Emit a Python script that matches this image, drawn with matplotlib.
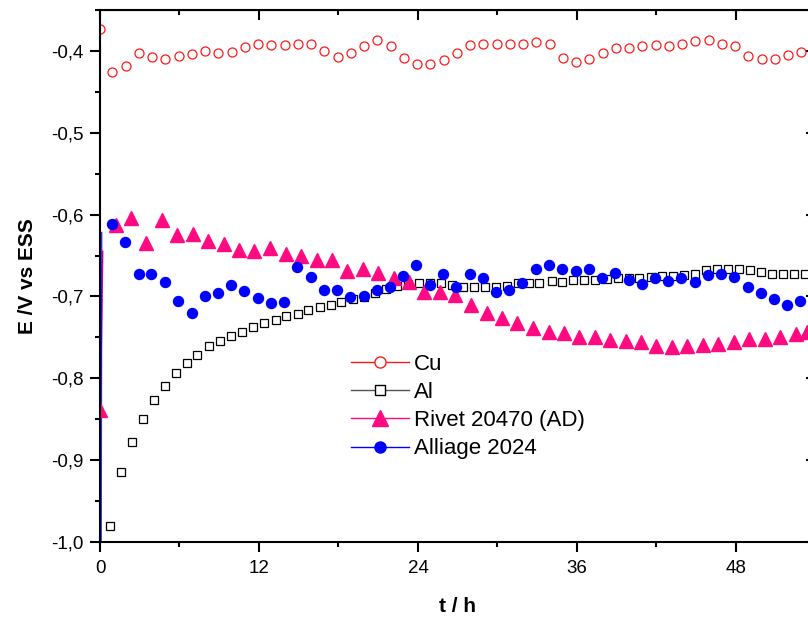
import matplotlib
matplotlib.use("Agg")
import matplotlib.pyplot as plt
from matplotlib.lines import Line2D
from matplotlib.ticker import FuncFormatter, MultipleLocator

plt.rcParams["font.family"] = ["Liberation Sans", "DejaVu Sans"]

# --- data (t in hours, E in V vs ESS) ---
cu_t = [0.0, 0.93, 1.93, 2.93, 3.93, 4.93, 5.93, 6.93, 7.93, 8.93, 9.93, 10.93, 11.93,
        12.93, 13.93, 14.93, 15.93, 16.93, 17.93, 18.93, 19.93, 20.93, 21.93, 22.93,
        23.93, 24.93, 25.93, 26.93, 27.93, 28.93, 29.93, 30.93, 31.93, 32.93, 33.93,
        34.93, 35.93, 36.93, 37.93, 38.93, 39.93, 40.93, 41.93, 42.93, 43.93, 44.93,
        45.93, 46.93, 47.93, 48.93, 49.93, 50.93, 51.93, 52.93]
cu_e = [-0.373, -0.426, -0.418, -0.403, -0.407, -0.410, -0.406, -0.404, -0.400, -0.402,
        -0.401, -0.395, -0.391, -0.393, -0.393, -0.392, -0.392, -0.400, -0.407, -0.402,
        -0.394, -0.387, -0.394, -0.409, -0.416, -0.416, -0.411, -0.402, -0.393, -0.392,
        -0.392, -0.392, -0.392, -0.389, -0.391, -0.409, -0.414, -0.410, -0.402, -0.397,
        -0.397, -0.394, -0.393, -0.394, -0.392, -0.388, -0.387, -0.392, -0.394, -0.406,
        -0.410, -0.410, -0.405, -0.401]

al_t = [0.73, 1.56, 2.39, 3.22, 4.08, 4.93, 5.71, 6.54, 7.34, 8.21, 9.06, 9.89, 10.74,
        11.55, 12.38, 13.26, 14.04, 14.92, 15.72, 16.58, 17.41, 18.21, 19.07, 19.9,
        20.73, 21.56, 22.39, 23.22, 24.08, 24.9, 25.74, 26.57, 27.4, 28.23, 29.06,
        29.89, 30.72, 31.55, 32.38, 33.15, 34.09, 34.89, 35.72, 36.55, 37.38, 38.24,
        39.07, 39.9, 40.7, 41.56, 42.39, 43.22, 44.05, 44.88, 45.71, 46.54, 47.37,
        48.2, 49.03, 49.86, 50.69, 51.55, 52.38, 53.18]
al_e = [-0.981, -0.914, -0.878, -0.850, -0.827, -0.809, -0.793, -0.781, -0.771, -0.761,
        -0.754, -0.748, -0.743, -0.737, -0.733, -0.729, -0.724, -0.721, -0.717, -0.713,
        -0.711, -0.707, -0.703, -0.701, -0.696, -0.691, -0.687, -0.685, -0.683, -0.683,
        -0.684, -0.686, -0.688, -0.688, -0.688, -0.688, -0.687, -0.684, -0.684, -0.683,
        -0.681, -0.682, -0.680, -0.680, -0.680, -0.679, -0.678, -0.677, -0.677, -0.676,
        -0.675, -0.675, -0.674, -0.672, -0.668, -0.666, -0.666, -0.666, -0.668, -0.670,
        -0.672, -0.672, -0.673, -0.673]

rivet_t = [0.0, 1.18, 2.34, 3.49, 4.68, 5.83, 7.02, 8.17, 9.36, 10.51, 11.62, 12.83,
           14.02, 15.17, 16.36, 17.51, 18.66, 19.83, 21.0, 22.17, 23.34, 24.47, 25.66,
           26.81, 27.99, 29.18, 30.34, 31.47, 32.66, 33.89, 35.0, 36.17, 37.34, 38.49,
           39.68, 40.83, 41.98, 43.15, 44.32, 45.49, 46.66, 47.83, 48.98, 50.17, 51.32,
           52.51, 53.34]
rivet_e = [-0.839, -0.613, -0.604, -0.635, -0.606, -0.625, -0.624, -0.632, -0.636,
           -0.643, -0.644, -0.641, -0.648, -0.651, -0.656, -0.656, -0.669, -0.667,
           -0.671, -0.677, -0.682, -0.694, -0.695, -0.698, -0.711, -0.720, -0.726,
           -0.733, -0.739, -0.744, -0.745, -0.750, -0.750, -0.753, -0.754, -0.756,
           -0.761, -0.762, -0.760, -0.759, -0.758, -0.756, -0.752, -0.752, -0.749,
           -0.746, -0.744]

alliage_t = [0.88, 1.91, 2.92, 3.87, 4.93, 5.89, 6.94, 7.92, 8.91, 9.89, 10.89, 11.9,
             12.91, 13.89, 14.89, 15.9, 16.91, 17.89, 18.89, 19.9, 20.88, 21.87, 22.89,
             23.87, 24.88, 25.86, 26.89, 27.9, 28.88, 29.89, 30.89, 31.87, 32.88, 33.89,
             34.89, 35.9, 36.88, 37.89, 38.89, 39.9, 40.88, 41.89, 42.9, 43.88, 44.89,
             45.89, 46.89, 47.88, 48.89, 49.89, 50.89, 51.88, 52.85]
alliage_e = [-0.611, -0.634, -0.673, -0.673, -0.682, -0.706, -0.720, -0.699, -0.696,
             -0.686, -0.693, -0.702, -0.708, -0.707, -0.664, -0.676, -0.692, -0.692,
             -0.701, -0.699, -0.692, -0.688, -0.675, -0.662, -0.686, -0.672, -0.688,
             -0.672, -0.678, -0.694, -0.692, -0.684, -0.666, -0.662, -0.667, -0.669,
             -0.666, -0.678, -0.671, -0.680, -0.685, -0.678, -0.681, -0.678, -0.682,
             -0.674, -0.672, -0.676, -0.689, -0.696, -0.703, -0.711, -0.706]

# first minutes of each record: only the steep start of the connecting line shows
cu_start_t, cu_start_e = [0.0, 0.02], [-0.373, -0.400]
rivet_start_t, rivet_start_e = [0.02, 0.2], [-0.84, -0.645]
alliage_start_t, alliage_start_e = [0.08, 0.12], [-1.0, -0.622]

RED, BLACK, PINK, BLUE = "#FF1A1A", "#000000", "#FF0A80", "#0000FF"

fig = plt.figure(figsize=(8.08, 6.21), dpi=100)
ax = fig.add_axes([100 / 808, 1 - 542 / 621, 715.5 / 808, 532 / 621])

ax.plot(cu_start_t, cu_start_e, color=RED, lw=1.2)
ax.plot(rivet_start_t, rivet_start_e, color=PINK, lw=1.2)
ax.plot(alliage_start_t, alliage_start_e, color=BLUE, lw=1.2, alpha=0.8)

ax.plot(cu_t, cu_e, ls="none", marker="o", ms=6.5, mfc="white", mec=RED, mew=0.9)
ax.plot(al_t, al_e, ls="none", marker="s", ms=6, mfc="white", mec=BLACK, mew=0.9)
ax.plot(rivet_t, rivet_e, ls="none", marker="^", ms=10, color=PINK, mec=PINK)
ax.plot(alliage_t, alliage_e, ls="none", marker="o", ms=7.2, color=BLUE, mec=BLUE)

ax.set_xlim(0, 54)
ax.set_ylim(-1.0, -0.35)
ax.xaxis.set_major_locator(MultipleLocator(12))
ax.xaxis.set_minor_locator(MultipleLocator(6))
ax.yaxis.set_major_locator(MultipleLocator(0.1))
ax.yaxis.set_minor_locator(MultipleLocator(0.05))
ax.yaxis.set_major_formatter(FuncFormatter(lambda v, _: f"{v:.1f}".replace(".", ",")))

for s in ax.spines.values():
    s.set_linewidth(1.5)
ax.tick_params(which="both", direction="out", width=1.5, labelsize=13.5,
               top=False, right=False)
ax.tick_params(which="major", length=7)
ax.tick_params(which="minor", length=3.6)
ax.tick_params(axis="x", pad=6)
ax.tick_params(axis="y", pad=5)

# mirrored ticks, pointing inwards, on top and right
sec_x = ax.secondary_xaxis("top")
sec_x.xaxis.set_major_locator(MultipleLocator(12))
sec_x.xaxis.set_minor_locator(MultipleLocator(6))
sec_x.tick_params(which="both", direction="in", width=1.5, labeltop=False)
sec_x.tick_params(which="major", length=7)
sec_x.tick_params(which="minor", length=3.6)
sec_y = ax.secondary_yaxis("right")
sec_y.yaxis.set_major_locator(MultipleLocator(0.1))
sec_y.yaxis.set_minor_locator(MultipleLocator(0.05))
sec_y.tick_params(which="both", direction="in", width=1.5, labelright=False)
sec_y.tick_params(which="major", length=7)
sec_y.tick_params(which="minor", length=3.6)

ax.set_xlabel("t / h", fontsize=15, fontweight="bold", labelpad=14)
ax.set_ylabel("E /V vs ESS", fontsize=15, fontweight="bold", labelpad=10)

handles = [
    Line2D([], [], color=RED, lw=1, marker="o", ms=8, mfc="white", mec=RED),
    Line2D([], [], color="#555555", lw=1, marker="s", ms=7, mfc="white", mec=BLACK),
    Line2D([], [], color=PINK, lw=1, marker="^", ms=11),
    Line2D([], [], color=BLUE, lw=1, marker="o", ms=8),
]
labels = ["Cu", "Al", "Rivet 20470 (AD)", "Alliage 2024"]
ax.legend(handles, labels, loc="upper left", bbox_to_anchor=(351 / 808, 1 - 354 / 621),
          bbox_transform=fig.transFigure, frameon=False, fontsize=16,
          handlelength=2.6, handletextpad=0.25, labelspacing=0.32, borderpad=0,
          borderaxespad=0)

fig.savefig("out.png", dpi=100)
